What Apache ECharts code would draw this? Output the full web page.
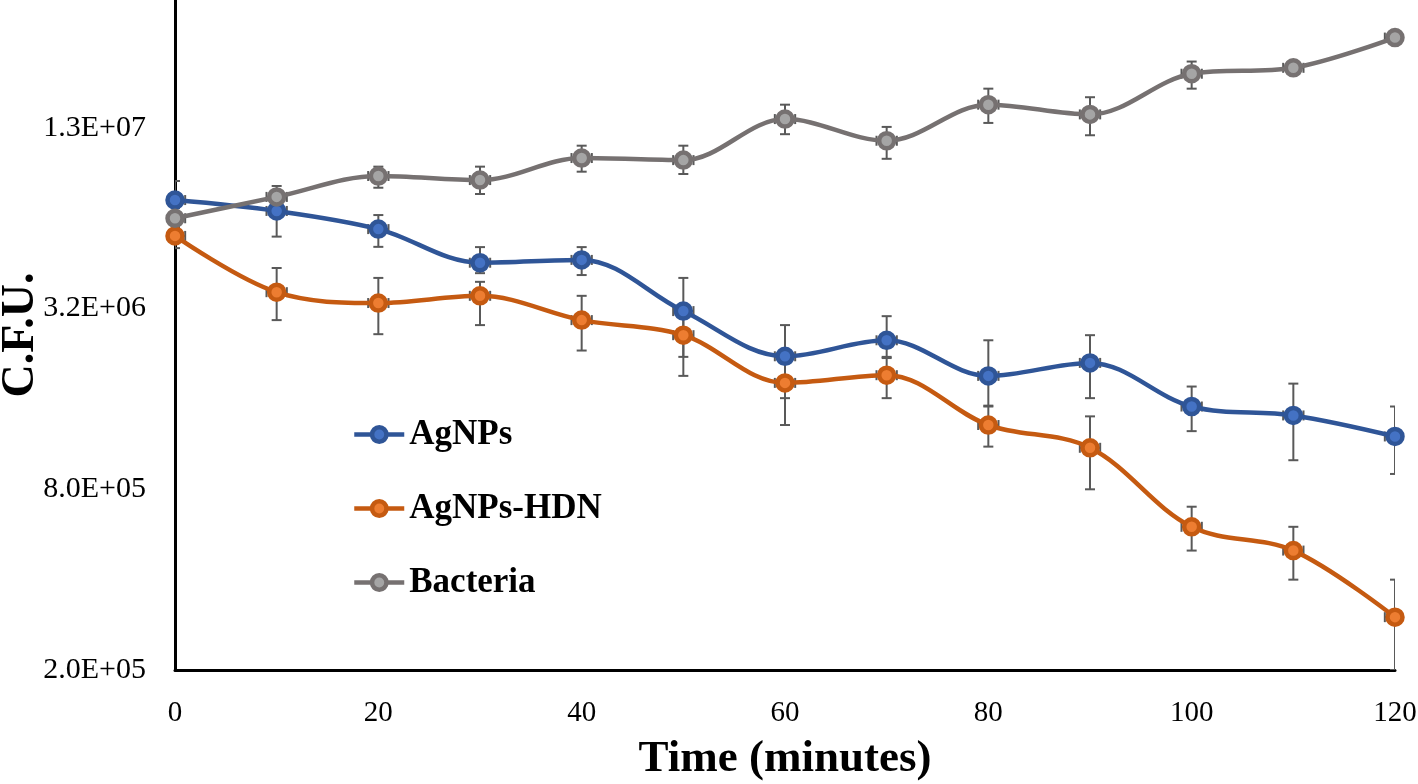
<!DOCTYPE html>
<html>
<head>
<meta charset="utf-8">
<script src="https://cdn.jsdelivr.net/npm/echarts@6/dist/echarts.min.js"></script>
<style>html,body{margin:0;padding:0;background:#fff}#chart{width:1418px;height:784px}</style>
</head>
<body>
<div id="chart"></div>
<script>
// ---- data ----
const times = [0, 10, 20, 30, 40, 50, 60, 70, 80, 90, 100, 110, 120];

const agnps     = [7.36e6, 6.77e6, 5.89e6, 4.55e6, 4.65e6, 3.14e6, 2.22e6, 2.51e6, 1.91e6, 2.11e6, 1.51e6, 1.41e6, 1.20e6];
const agnpsHigh = [8.52e6, 7.77e6, 6.56e6, 5.13e6, 5.13e6, 4.05e6, 2.82e6, 3.02e6, 2.51e6, 2.61e6, 1.76e6, 1.80e6, 1.51e6];
const agnpsLow  = [5.42e6, 5.56e6, 5.14e6, 4.20e6, 4.14e6, 2.21e6, 1.61e6, 2.21e6, 1.51e6, 1.61e6, 1.25e6, 1.00e6, 9.0e5];

const hdn       = [5.59e6, 3.63e6, 3.34e6, 3.53e6, 2.93e6, 2.61e6, 1.81e6, 1.92e6, 1.31e6, 1.10e6, 6.0e5, 5.0e5, 3.0e5];
const hdnHigh   = [6.03e6, 4.37e6, 4.05e6, 3.93e6, 3.53e6, 3.17e6, 2.24e6, 2.19e6, 1.52e6, 1.40e6, 7.0e5, 6.0e5, 4.0e5];
const hdnLow    = [5.09e6, 2.93e6, 2.63e6, 2.82e6, 2.32e6, 1.91e6, 1.31e6, 1.61e6, 1.11e6, 8.0e5, 5.0e5, 4.0e5, 2.0e5];

const bacteria     = [6.40e6, 7.54e6, 8.85e6, 8.58e6, 1.016e7, 1.00e7, 1.37e7, 1.16e7, 1.53e7, 1.42e7, 1.94e7, 2.03e7, 2.56e7];
const bacteriaHigh = [6.92e6, 8.20e6, 9.51e6, 9.51e6, 1.117e7, 1.117e7, 1.53e7, 1.29e7, 1.73e7, 1.62e7, 2.13e7, 2.10e7, 2.64e7];
const bacteriaLow  = [5.94e6, 6.98e6, 8.09e6, 7.71e6, 9.15e6, 8.99e6, 1.22e7, 1.01e7, 1.33e7, 1.21e7, 1.73e7, 1.97e7, 2.48e7];

const timeError = 1; // minutes (horizontal error bars)

const seriesNames = ['AgNPs', 'AgNPs-HDN', 'Bacteria'];
const yTickLabels = ['2.0E+05', '8.0E+05', '3.2E+06', '1.3E+07'];
const xTickLabels = ['0', '20', '40', '60', '80', '100', '120'];

// ---- log (base 4) mapping onto a linear value axis ----
const Y_BASE = 2.0e5;
const LOG_BASE = 4;
const toAxis = v => Math.log(v / Y_BASE) / Math.log(LOG_BASE);
const Y_MAX = 3.708;

const styles = [
  { line: '#2F5597', fill: '#4472C4' },
  { line: '#C55A11', fill: '#ED7D31' },
  { line: '#767171', fill: '#A5A5A5' }
];
const values = [agnps, hdn, bacteria];
const highs = [agnpsHigh, hdnHigh, bacteriaHigh];
const lows = [agnpsLow, hdnLow, bacteriaLow];

const FONT = '"Liberation Serif", "Times New Roman", serif';

function renderErr(params, api) {
  const x = api.value(0), lo = api.value(1), hi = api.value(2), c = api.value(3);
  const pLo = api.coord([x, lo]);
  const pHi = api.coord([x, hi]);
  const pL = api.coord([x - timeError, c]);
  const pR = api.coord([x + timeError, c]);
  const cap = 5;
  const st = { stroke: '#595959', lineWidth: 2 };
  const ln = (x1, y1, x2, y2) => ({ type: 'line', shape: { x1, y1, x2, y2 }, style: st });
  return {
    type: 'group',
    children: [
      ln(pLo[0], pLo[1], pHi[0], pHi[1]),
      ln(pLo[0] - cap, pLo[1], pLo[0] + cap, pLo[1]),
      ln(pHi[0] - cap, pHi[1], pHi[0] + cap, pHi[1]),
      ln(pL[0], pL[1], pR[0], pR[1]),
      ln(pL[0], pL[1] - cap, pL[0], pL[1] + cap),
      ln(pR[0], pR[1] - cap, pR[0], pR[1] + cap)
    ]
  };
}

const series = [];
seriesNames.forEach((name, i) => {
  series.push({
    name: name + ' error',
    type: 'custom',
    renderItem: renderErr,
    z: 1,
    silent: true,
    clip: true,
    encode: { x: 0, y: [1, 2, 3] },
    data: times.map((t, j) => [t, toAxis(lows[i][j]), toAxis(highs[i][j]), toAxis(values[i][j])])
  });
});
seriesNames.forEach((name, i) => {
  series.push({
    name: name,
    type: 'line',
    smooth: 0.35,
    z: 3,
    symbol: 'circle',
    symbolSize: 15,
    lineStyle: { color: styles[i].line, width: 4.5 },
    itemStyle: { color: styles[i].fill, borderColor: styles[i].line, borderWidth: 4.5 },
    emphasis: { disabled: true },
    data: times.map((t, j) => [t, toAxis(values[i][j])])
  });
});

const chart = echarts.init(document.getElementById('chart'), null, { renderer: 'canvas' });
chart.setOption({
  animation: false,
  backgroundColor: '#ffffff',
  grid: { left: 175, right: 23, top: 0, bottom: 114, containLabel: false, outerBoundsMode: 'none' },
  legend: {
    data: seriesNames,
    orient: 'vertical',
    left: 347,
    top: 412,
    itemWidth: 50,
    itemHeight: 18,
    itemGap: 39,
    lineStyle: { width: 4.5 },
    itemStyle: { borderWidth: 4.5 },
    textStyle: { fontFamily: FONT, fontWeight: 'bold', fontSize: 35, color: '#000' }
  },
  xAxis: {
    type: 'value',
    min: 0,
    max: 120,
    interval: 20,
    name: 'Time (minutes)',
    nameLocation: 'middle',
    nameGap: 67,
    nameMoveOverlap: false,
    nameTextStyle: { fontFamily: FONT, fontWeight: 'bold', fontSize: 45, color: '#000' },
    axisLine: { lineStyle: { color: '#000', width: 3 } },
    axisTick: { show: false },
    splitLine: { show: false },
    axisLabel: {
      fontFamily: FONT, fontSize: 29, color: '#000', margin: 29,
      formatter: v => xTickLabels[Math.round(v / 20)]
    }
  },
  yAxis: {
    type: 'value',
    min: 0,
    max: Y_MAX,
    interval: 1,
    name: 'C.F.U.',
    nameLocation: 'middle',
    nameGap: 131,
    nameMoveOverlap: false,
    nameTextStyle: { fontFamily: FONT, fontWeight: 'bold', fontSize: 46, color: '#000' },
    axisLine: { show: true, lineStyle: { color: '#000', width: 3 } },
    axisTick: { show: false },
    splitLine: { show: false },
    axisLabel: {
      fontFamily: FONT, fontSize: 30, color: '#000', margin: 29,
      showMaxLabel: false,
      formatter: v => (Math.abs(v - Math.round(v)) < 1e-6 && yTickLabels[Math.round(v)]) ? yTickLabels[Math.round(v)] : ''
    }
  },
  series: series
});
</script>
</body>
</html>
